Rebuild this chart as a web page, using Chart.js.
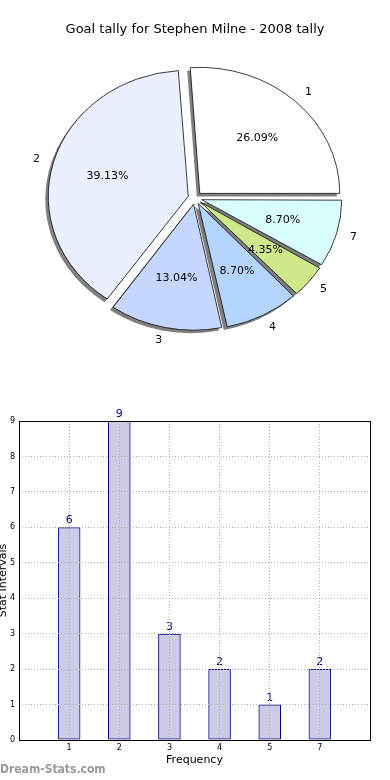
<!DOCTYPE html>
<html>
<head>
<meta charset="utf-8">
<script src="https://cdn.jsdelivr.net/npm/chart.js@4.4.1/dist/chart.umd.min.js"></script>
<style>
  html, body { margin: 0; padding: 0; background: #fff; }
  #wrap { position: relative; width: 390px; height: 780px; overflow: hidden; }
  #pie { position: absolute; left: 0; top: 0; }
  #bar { position: absolute; left: 0; top: 390px; }
  #mark { position: absolute; left: 0; top: 762px; font: bold 12px "DejaVu Sans Condensed", "DejaVu Sans", sans-serif; color: #999; }
</style>
</head>
<body>
<div id="wrap">
  <canvas id="pie" width="390" height="380"></canvas>
  <canvas id="bar" width="390" height="390"></canvas>
  <div id="mark">Dream-Stats.com</div>
</div>
<script>
const categories = ['1', '2', '3', '4', '5', '7'];
const goals = [6, 9, 3, 2, 1, 2];
const sliceColors = ['#ffffff', '#eaf0ff', '#c5d7ff', '#b4d5ff', '#cde98a', '#d9ffff'];
const yTicks = [0, 1, 2, 3, 4, 5, 6, 7, 8, 9];

const FONT = '"DejaVu Sans", sans-serif';
const RADIUS = 140;
const SQUASH = 0.9;      // pie is drawn as an ellipse, like the original
const EXPLODE = 7;       // px the slices are pushed out

// matplotlib goes counter-clockwise from 3 o'clock, chart.js clockwise -> reverse
const pieLabels = categories.slice().reverse();
const pieValues = goals.slice().reverse();
const pieColors = sliceColors.slice().reverse();
const total = goals.reduce((a, b) => a + b, 0);

const ellipsePlugin = {
  id: 'ellipse',
  afterUpdate(chart) {
    // chart.js grows small exploded slices a bit, keep them all the same radius
    chart.getDatasetMeta(0).data.forEach(arc => {
      const fix = 1 - Math.sin(Math.min(Math.PI, arc.endAngle - arc.startAngle));
      arc.outerRadius = RADIUS - EXPLODE * fix;
    });
  },
  beforeDatasetsDraw(chart) {
    const ctx = chart.ctx;
    const arcs = chart.getDatasetMeta(0).data;
    const cx = arcs[0].x, cy = arcs[0].y;
    ctx.save();
    ctx.translate(cx, cy);
    ctx.scale(1, SQUASH);
    ctx.translate(-cx, -cy);
    // drop shadows under the slices
    ctx.save();
    ctx.translate(-3, 3 / SQUASH);
    ctx.fillStyle = 'rgba(0,0,0,0.5)';
    arcs.forEach(arc => {
      const a = (arc.startAngle + arc.endAngle) / 2;
      const x = arc.x + Math.cos(a) * EXPLODE, y = arc.y + Math.sin(a) * EXPLODE;
      ctx.beginPath();
      ctx.moveTo(x, y);
      ctx.arc(x, y, RADIUS, arc.startAngle, arc.endAngle);
      ctx.closePath();
      ctx.fill();
    });
    ctx.restore();
  },
  afterDatasetsDraw(chart) {
    const ctx = chart.ctx;
    ctx.restore();
    ctx.save();
    ctx.font = '11px ' + FONT;
    ctx.fillStyle = '#000';
    chart.getDatasetMeta(0).data.forEach((arc, i) => {
      const a = (arc.startAngle + arc.endAngle) / 2;
      const c = Math.cos(a), s = Math.sin(a);
      // outer category label
      let d = EXPLODE + 1.1 * RADIUS;
      ctx.textBaseline = 'middle';
      ctx.textAlign = c > 0 ? 'left' : 'right';
      ctx.fillText(pieLabels[i], arc.x + c * d, arc.y + s * d * SQUASH);
      // percentage inside
      d = EXPLODE + 0.6 * RADIUS;
      ctx.textAlign = 'center';
      ctx.fillText((pieValues[i] / total * 100).toFixed(2) + '%', arc.x + c * d, arc.y + s * d * SQUASH);
    });
    ctx.restore();
  }
};

new Chart(document.getElementById('pie'), {
  type: 'pie',
  data: {
    labels: pieLabels,
    datasets: [{
      data: pieValues,
      backgroundColor: pieColors,
      borderColor: '#000',
      borderWidth: 0.8,
      offset: EXPLODE * 4,   // arc element moves by offset / 4
      hoverOffset: 0,
      radius: RADIUS
    }]
  },
  options: {
    responsive: false,
    animation: false,
    events: [],
    rotation: 90,
    layout: { padding: { bottom: 31.6 } },
    plugins: {
      legend: { display: false },
      tooltip: { enabled: false },
      title: {
        display: true,
        text: 'Goal tally for Stephen Milne - 2008 tally',
        color: '#000',
        font: { family: FONT, size: 13, weight: 'normal' },
        padding: { top: 22, bottom: 10 }
      }
    }
  },
  plugins: [ellipsePlugin]
});

// bar chart: axes frame and value labels
const framePlugin = {
  id: 'frame',
  afterDatasetsDraw(chart) {
    const ctx = chart.ctx;
    ctx.save();
    ctx.font = '11px ' + FONT;
    ctx.fillStyle = '#000080';
    ctx.textAlign = 'center';
    ctx.textBaseline = 'alphabetic';
    chart.getDatasetMeta(0).data.forEach((bar, i) => {
      ctx.fillText(String(goals[i]), bar.x, bar.y - 4);
    });
    ctx.restore();
  },
  afterDraw(chart) {
    const ctx = chart.ctx;
    const a = chart.chartArea;
    ctx.save();
    ctx.strokeStyle = '#000';
    ctx.lineWidth = 1;
    ctx.strokeRect(Math.round(a.left) + 0.5, Math.round(a.top) + 0.5,
      Math.round(a.right - a.left), Math.round(a.bottom - a.top));
    ctx.restore();
  }
};

new Chart(document.getElementById('bar'), {
  type: 'bar',
  data: {
    datasets: [{
      data: goals.map((v, i) => ({ x: i + 1, y: v })),
      backgroundColor: 'rgba(0,0,128,0.2)',
      borderColor: '#000080',
      borderWidth: 1,
      borderSkipped: false,
      barPercentage: 0.45,
      categoryPercentage: 1
    }]
  },
  options: {
    responsive: false,
    animation: false,
    events: [],
    layout: { padding: { top: 31, right: 20, left: 0, bottom: 0 } },
    plugins: { legend: { display: false }, tooltip: { enabled: false } },
    scales: {
      x: {
        type: 'linear',
        min: 0,
        max: 7,
        offset: false,
        afterBuildTicks(scale) {
          scale.ticks = categories.map((c, i) => ({ value: i + 1 }));
        },
        afterFit(scale) { scale.height = 40; },
        ticks: {
          callback: (v) => categories[v - 1],
          font: { family: FONT, size: 8 },
          color: '#000',
          padding: 3,
          maxRotation: 0
        },
        grid: { color: '#b0b0b0', drawTicks: false, offset: false, z: 1 },
        border: { display: false, dash: [1, 2] },
        title: {
          display: true,
          text: 'Frequency',
          color: '#000',
          font: { family: FONT, size: 11 },
          padding: { top: 0, bottom: 13.4 }
        }
      },
      y: {
        type: 'linear',
        min: 0,
        max: 9,
        afterBuildTicks(scale) {
          scale.ticks = yTicks.map(v => ({ value: v }));
        },
        afterFit(scale) { scale.width = 19; },
        ticks: {
          font: { family: FONT, size: 8 },
          color: '#000',
          padding: 4
        },
        grid: { color: '#b0b0b0', drawTicks: false, z: 1 },
        border: { display: false, dash: [1, 2] },
        title: {
          display: true,
          text: 'Stat Intervals',
          color: '#000',
          font: { family: FONT, size: 11, lineHeight: 1 },
          padding: { top: -2, bottom: 0 }
        }
      }
    }
  },
  plugins: [framePlugin]
});
</script>
</body>
</html>
